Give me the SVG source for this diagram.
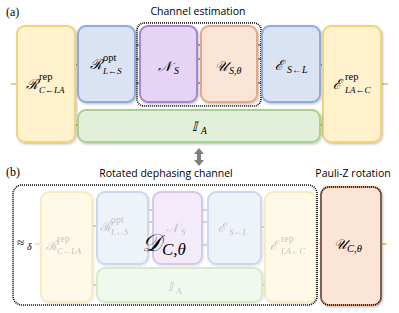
<svg xmlns="http://www.w3.org/2000/svg" width="399" height="313" viewBox="0 0 399 313">
<defs>
<filter id="sh" x="-10%" y="-10%" width="130%" height="130%">
<feDropShadow dx="1" dy="1.2" stdDeviation="0.8" flood-color="#000" flood-opacity="0.25"/>
</filter>
</defs>
<style>
.box{stroke-width:2;filter:url(#sh)}
.y{fill:#fff2cc;stroke:#f2d27a}
.b{fill:#dae3f3;stroke:#8faadc}
.p{fill:#e6d4f5;stroke:#a985cb}
.o{fill:#fbe5d6;stroke:#e4a885}
.g{fill:#e2f0d9;stroke:#a9d18e}
.m{font-family:"Liberation Serif","DejaVu Serif",serif;font-style:italic;fill:#000}
.up{font-family:"Liberation Serif",serif;font-style:normal}
.lab{font-family:"Liberation Serif",serif;font-size:12px;fill:#000}
.t{font-family:"Open Sans","Liberation Sans",sans-serif;font-size:10.5px;fill:#000}
.ty{stroke:#d9a83a;stroke-width:1.2}
.tg{stroke:#5b8a3a;stroke-width:1.2}
.tb{stroke:#4472c4;stroke-width:1.2}
.dot{fill:none;stroke:#000;stroke-width:1.6;stroke-dasharray:1 1}
.fade{opacity:0.45}
.fm{fill:#777}
</style>

<text class="lab" x="6" y="16">(a)</text>
<text class="t" x="198" y="15" text-anchor="middle">Channel estimation</text>

<g id="connectors-a">
<line class="ty" x1="11" y1="84" x2="17" y2="84"/>
<line class="tg" x1="75" y1="65" x2="78" y2="65"/>
<line class="tg" x1="75" y1="125" x2="78" y2="125"/>
<line class="tb" x1="135" y1="45" x2="140" y2="45"/>
<line class="tb" x1="135" y1="59" x2="140" y2="59"/>
<line class="tb" x1="135" y1="83" x2="140" y2="83"/>
<line class="tb" x1="197" y1="45" x2="201" y2="45"/>
<line class="tb" x1="197" y1="59" x2="201" y2="59"/>
<line class="tb" x1="197" y1="83" x2="201" y2="83"/>
<line class="tb" x1="257" y1="45" x2="262" y2="45"/>
<line class="tb" x1="257" y1="59" x2="262" y2="59"/>
<line class="tb" x1="257" y1="83" x2="262" y2="83"/>
<line class="tg" x1="320" y1="65" x2="323" y2="65"/>
<line class="tg" x1="320" y1="125" x2="323" y2="125"/>
<line class="ty" x1="381" y1="84" x2="388" y2="84"/>
</g>

<g id="a-Rrep"><rect class="box y" x="17" y="26" width="58" height="116" rx="8"/>
<text class="m" x="26" y="89" font-size="14">ℛ</text>
<text class="m up" x="39" y="80" font-size="10.5">rep</text>
<text class="m" x="39" y="93" font-size="9">C←LA</text></g>
<g id="a-Ropt"><rect class="box b" x="78" y="26" width="57" height="76" rx="8"/>
<text class="m" x="90" y="69" font-size="14">ℛ</text>
<text class="m up" x="103" y="61" font-size="10.5">opt</text>
<text class="m" x="103" y="74" font-size="9">L←S</text></g>
<g id="a-N"><rect class="box p" x="140" y="26" width="57" height="76" rx="8"/>
<text class="m" x="158" y="71" font-size="14">𝒩</text>
<text class="m" x="174" y="74" font-size="10">S</text></g>
<g id="a-U"><rect class="box o" x="201" y="26" width="56" height="76" rx="8"/>
<text class="m" x="215" y="71" font-size="14">𝒰</text>
<text class="m" x="229" y="74" font-size="10">S,θ</text></g>
<rect class="dot" x="137" y="23" width="124" height="83" rx="7"/>
<g id="a-E"><rect class="box b" x="262" y="26" width="58" height="76" rx="8"/>
<text class="m" x="275" y="70" font-size="14">ℰ</text>
<text class="m" x="287" y="73" font-size="10">S←L</text></g>
<g id="a-Erep"><rect class="box y" x="323" y="26" width="58" height="116" rx="8"/>
<text class="m" x="333" y="89" font-size="14">ℰ</text>
<text class="m up" x="345" y="80" font-size="10.5">rep</text>
<text class="m" x="345" y="93" font-size="9">LA←C</text></g>
<g id="a-I"><rect class="box g" x="78" y="110" width="242" height="32" rx="8"/>
<text class="m" x="192" y="131" font-size="13">𝕀</text>
<text class="m" x="201" y="134" font-size="9.5">A</text></g>

<g id="arrow"><polygon fill="#7f7f7f" points="199,148 204,154 201,154 201,160 204,160 199,166 194,160 197,160 197,154 194,154"/></g>

<text class="lab" x="6" y="176">(b)</text>
<text class="t" x="166" y="177" text-anchor="middle">Rotated dephasing channel</text>
<text class="t" x="353" y="177" text-anchor="middle">Pauli-Z rotation</text>

<g class="fade">
<g id="connectors-b">
<line class="ty" x1="34" y1="244" x2="41" y2="244"/>
<line class="tg" x1="92" y1="226" x2="97" y2="226"/>
<line class="tg" x1="92" y1="285" x2="97" y2="285"/>
<line class="tb" x1="148" y1="210" x2="153" y2="210"/>
<line class="tb" x1="148" y1="222" x2="153" y2="222"/>
<line class="tb" x1="202" y1="210" x2="208" y2="210"/>
<line class="tb" x1="202" y1="222" x2="208" y2="222"/>
<line class="tb" x1="202" y1="245" x2="208" y2="245"/>
<line class="tg" x1="261" y1="227" x2="265" y2="227"/>
<line class="tg" x1="262" y1="285" x2="265" y2="285"/>
<line class="ty" x1="316" y1="244" x2="321" y2="244"/>
</g>
<g id="b-Rrep"><rect class="box y" x="41" y="192" width="51" height="110" rx="8"/>
<text class="m fm" x="46" y="250" font-size="13">ℛ</text>
<text class="m up fm" x="57" y="242" font-size="10">rep</text>
<text class="m fm" x="57" y="254" font-size="8.5">C←LA</text></g>
<g id="b-Ropt"><rect class="box b" x="97" y="192" width="51" height="72" rx="8"/>
<text class="m fm" x="100" y="231" font-size="13">ℛ</text>
<text class="m up fm" x="111" y="223" font-size="10">opt</text>
<text class="m fm" x="111" y="235" font-size="8.5">L←S</text></g>
<g id="b-N"><rect class="box p" x="153" y="192" width="49" height="72" rx="8"/>
<text class="m fm" x="166" y="232" font-size="13">𝒩</text>
<text class="m fm" x="181" y="235" font-size="9">S</text></g>
<g id="b-E"><rect class="box b" x="208" y="192" width="53" height="72" rx="8"/>
<text class="m fm" x="218" y="232" font-size="13">ℰ</text>
<text class="m fm" x="229" y="235" font-size="9">S←L</text></g>
<g id="b-Erep"><rect class="box y" x="265" y="192" width="51" height="110" rx="8"/>
<text class="m fm" x="270" y="250" font-size="13">ℰ</text>
<text class="m up fm" x="281" y="242" font-size="10">rep</text>
<text class="m fm" x="281" y="254" font-size="8.5">LA←C</text></g>
<g id="b-I"><rect class="box g" x="97" y="268" width="165" height="34" rx="8"/>
<text class="m fm" x="168" y="291" font-size="12">𝕀</text>
<text class="m fm" x="176" y="294" font-size="9">A</text></g>
</g>
<text class="m up" x="17" y="247" font-size="13" fill="#888">≈</text>
<text class="m" x="27" y="250" font-size="10" fill="#888">δ</text>

<rect class="dot" x="13" y="185" width="304" height="120" rx="9"/>

<g id="b-D"><text class="m" x="142" y="251" font-size="24">𝒟</text>
<text class="m" x="162" y="255" font-size="17">C,θ</text></g>

<g id="connectors-b2"><line class="ty" x1="381" y1="244" x2="387" y2="244"/></g>
<g id="b-U"><rect class="box o" x="321" y="187" width="60" height="118" rx="8" style="stroke:#d9a080"/>
<rect class="dot" x="321" y="187" width="60" height="118" rx="8"/>
<text class="m" x="334" y="249" font-size="14">𝒰</text>
<text class="m" x="347" y="252" font-size="10.5">C,θ</text></g>
</svg>
